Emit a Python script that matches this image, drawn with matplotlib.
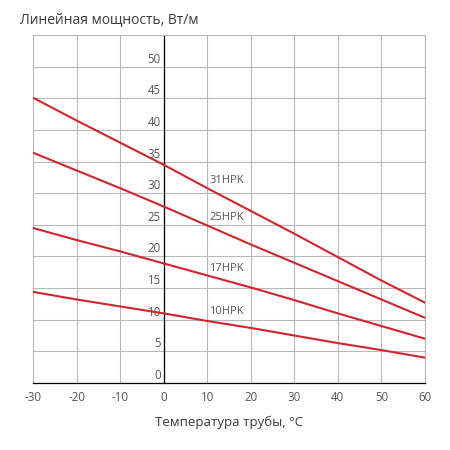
import matplotlib
matplotlib.use('Agg')
import matplotlib.pyplot as plt
import matplotlib.transforms as mtransforms

# --- DATA ---
temps = [-30, -20, -10, 0, 10, 20, 30, 40, 50, 60]
p_31hpk = [45.1, 41.5, 38.0, 34.5, 30.8, 27.2, 23.6, 19.9, 16.2, 12.7]
p_25hpk = [36.4, 33.6, 30.8, 27.9, 24.9, 21.9, 19.0, 16.1, 13.2, 10.3]
p_17hpk = [24.5, 22.6, 20.8, 18.9, 17.0, 15.1, 13.1, 11.0, 9.0, 7.0]
p_10hpk = [14.4, 13.2, 12.1, 11.0, 9.8, 8.7, 7.5, 6.3, 5.2, 4.0]

series_names = ['31HPK', '25HPK', '17HPK', '10HPK']
series_values = [p_31hpk, p_25hpk, p_17hpk, p_10hpk]
label_y = [32.0, 26.2, 18.1, 11.3]   # where the cable names sit
label_x = 10.5

x_ticks = list(range(-30, 61, 10))
y_ticks = list(range(0, 51, 5))

title = 'Линейная мощность, Вт/м'
x_title = 'Температура трубы, °C'

# --- STYLE ---
plt.rcParams['font.family'] = ['Open Sans', 'DejaVu Sans']
plt.rcParams['axes.unicode_minus'] = False
RED = '#d3232e'
GRID = '#b8b8b8'
TXT = '#555555'

fig = plt.figure(figsize=(4.5, 4.5), dpi=100)
ax = fig.add_axes([0.0733, 0.149, 0.871, 0.773])

for vals in series_values:
    ax.plot(temps, vals, color=RED, lw=1.5, zorder=3)

for name, ly in zip(series_names, label_y):
    ax.text(label_x, ly, name, color=TXT, fontsize=8, va='center', ha='left', zorder=4)

ax.set_xlim(-30, 60)
ax.set_ylim(0, 55)
ax.set_xticks(x_ticks)
ax.set_yticks(y_ticks + [55])
ax.set_yticklabels([str(v) for v in y_ticks] + [''])
ax.grid(True, color=GRID, lw=0.8, zorder=0)
ax.set_axisbelow(True)

# spines: black axes through zero, grey frame elsewhere
ax.spines['left'].set_position(('data', 0))
ax.spines['left'].set_color('black')
ax.spines['left'].set_linewidth(0.9)
ax.spines['bottom'].set_color('black')
ax.spines['bottom'].set_linewidth(0.9)
for s in ('top', 'right'):
    ax.spines[s].set_color(GRID)
    ax.spines[s].set_linewidth(0.8)

ax.tick_params(axis='both', length=0, labelcolor=TXT, labelsize=8.3)
ax.tick_params(axis='y', pad=2)
ax.tick_params(axis='x', pad=6)

# y labels sit a bit above their grid lines
shift = mtransforms.ScaledTranslation(0, 6.5 / 72, fig.dpi_scale_trans)
for lab in ax.get_yticklabels():
    lab.set_transform(lab.get_transform() + shift)

fig.text(0.044, 0.955, title, fontsize=10, color='#3a3a3a', ha='left', va='center')
ax.set_xlabel(x_title, fontsize=9.5, color='#3a3a3a', labelpad=8)

plt.savefig('out.png', dpi=100, facecolor='white')
